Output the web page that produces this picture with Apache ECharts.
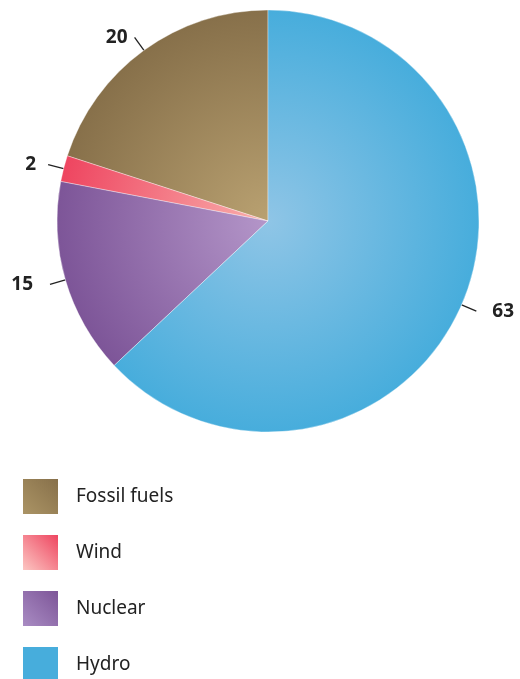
<!DOCTYPE html>
<html>
<head>
<meta charset="utf-8">
<script src="https://cdn.jsdelivr.net/npm/echarts@6/dist/echarts.min.js"></script>
<style>html,body{margin:0;padding:0;background:#fff}#c{width:520px;height:679px}</style>
</head>
<body>
<div id="c"></div>
<script>
const categories = ['Fossil fuels', 'Wind', 'Nuclear', 'Hydro'];
const values = [20, 2, 15, 63];
const outerColors = ['#87704a', '#ee4560', '#7d5598', '#47addc'];
const innerColors = ['#b9a171', '#f9b0ad', '#b496c9', '#8fc5e6'];
const legendLight = ['#ab9465', '#fcc6c2', '#a98cc3', '#47addc'];
const labelPads = [[0, 0, 0, 0], [0, 5, 0, 0], [2, 10, 0, 0], [0, 0, 0, 9]];
const labelVAlign = ['middle', 'middle', 'top', 'middle'];

const cx = 268, cy = 221, R = 211;
const chart = echarts.init(document.getElementById('c'), null, {renderer: 'canvas'});

const data = categories.map((n, i) => ({
  name: n,
  value: values[i],
  itemStyle: {
    color: {
      type: 'radial', x: cx, y: cy, r: R, global: true,
      colorStops: [{offset: 0, color: innerColors[i]}, {offset: 1, color: outerColors[i]}]
    }
  },
  label: {padding: labelPads[i], verticalAlign: labelVAlign[i]}
}));

const legendData = categories.map((n, i) => ({
  name: n,
  itemStyle: {
    color: {
      type: 'linear', x: 1, y: 0, x2: 0, y2: 1,
      colorStops: [{offset: 0, color: outerColors[i]}, {offset: 1, color: legendLight[i]}]
    },
    borderWidth: 0
  }
}));

chart.setOption({
  animation: false,
  backgroundColor: '#fff',
  legend: {
    orient: 'vertical',
    left: 23, top: 479, height: 220,
    padding: 0,
    itemWidth: 35, itemHeight: 35, itemGap: 21,
    icon: 'rect',
    data: legendData,
    selectedMode: false,
    textStyle: {fontFamily: 'Noto Sans', fontSize: 19, color: '#222', padding: [0, 0, 0, 13]}
  },
  series: [{
    type: 'pie',
    center: [cx, cy],
    radius: R,
    startAngle: 90,
    clockwise: false,
    avoidLabelOverlap: false,
    silent: true,
    data: data,
    itemStyle: {borderColor: 'rgba(255,255,255,0.6)', borderWidth: 0.6},
    label: {
      show: true, position: 'outside', formatter: '{c}',
      fontFamily: 'Noto Sans', fontWeight: 'bold', fontSize: 19, color: '#222',
      distanceToLabelLine: 7
    },
    labelLine: {show: true, length: 16, length2: 0, smooth: false, lineStyle: {color: '#222', width: 1.3}}
  }]
});
</script>
</body>
</html>
